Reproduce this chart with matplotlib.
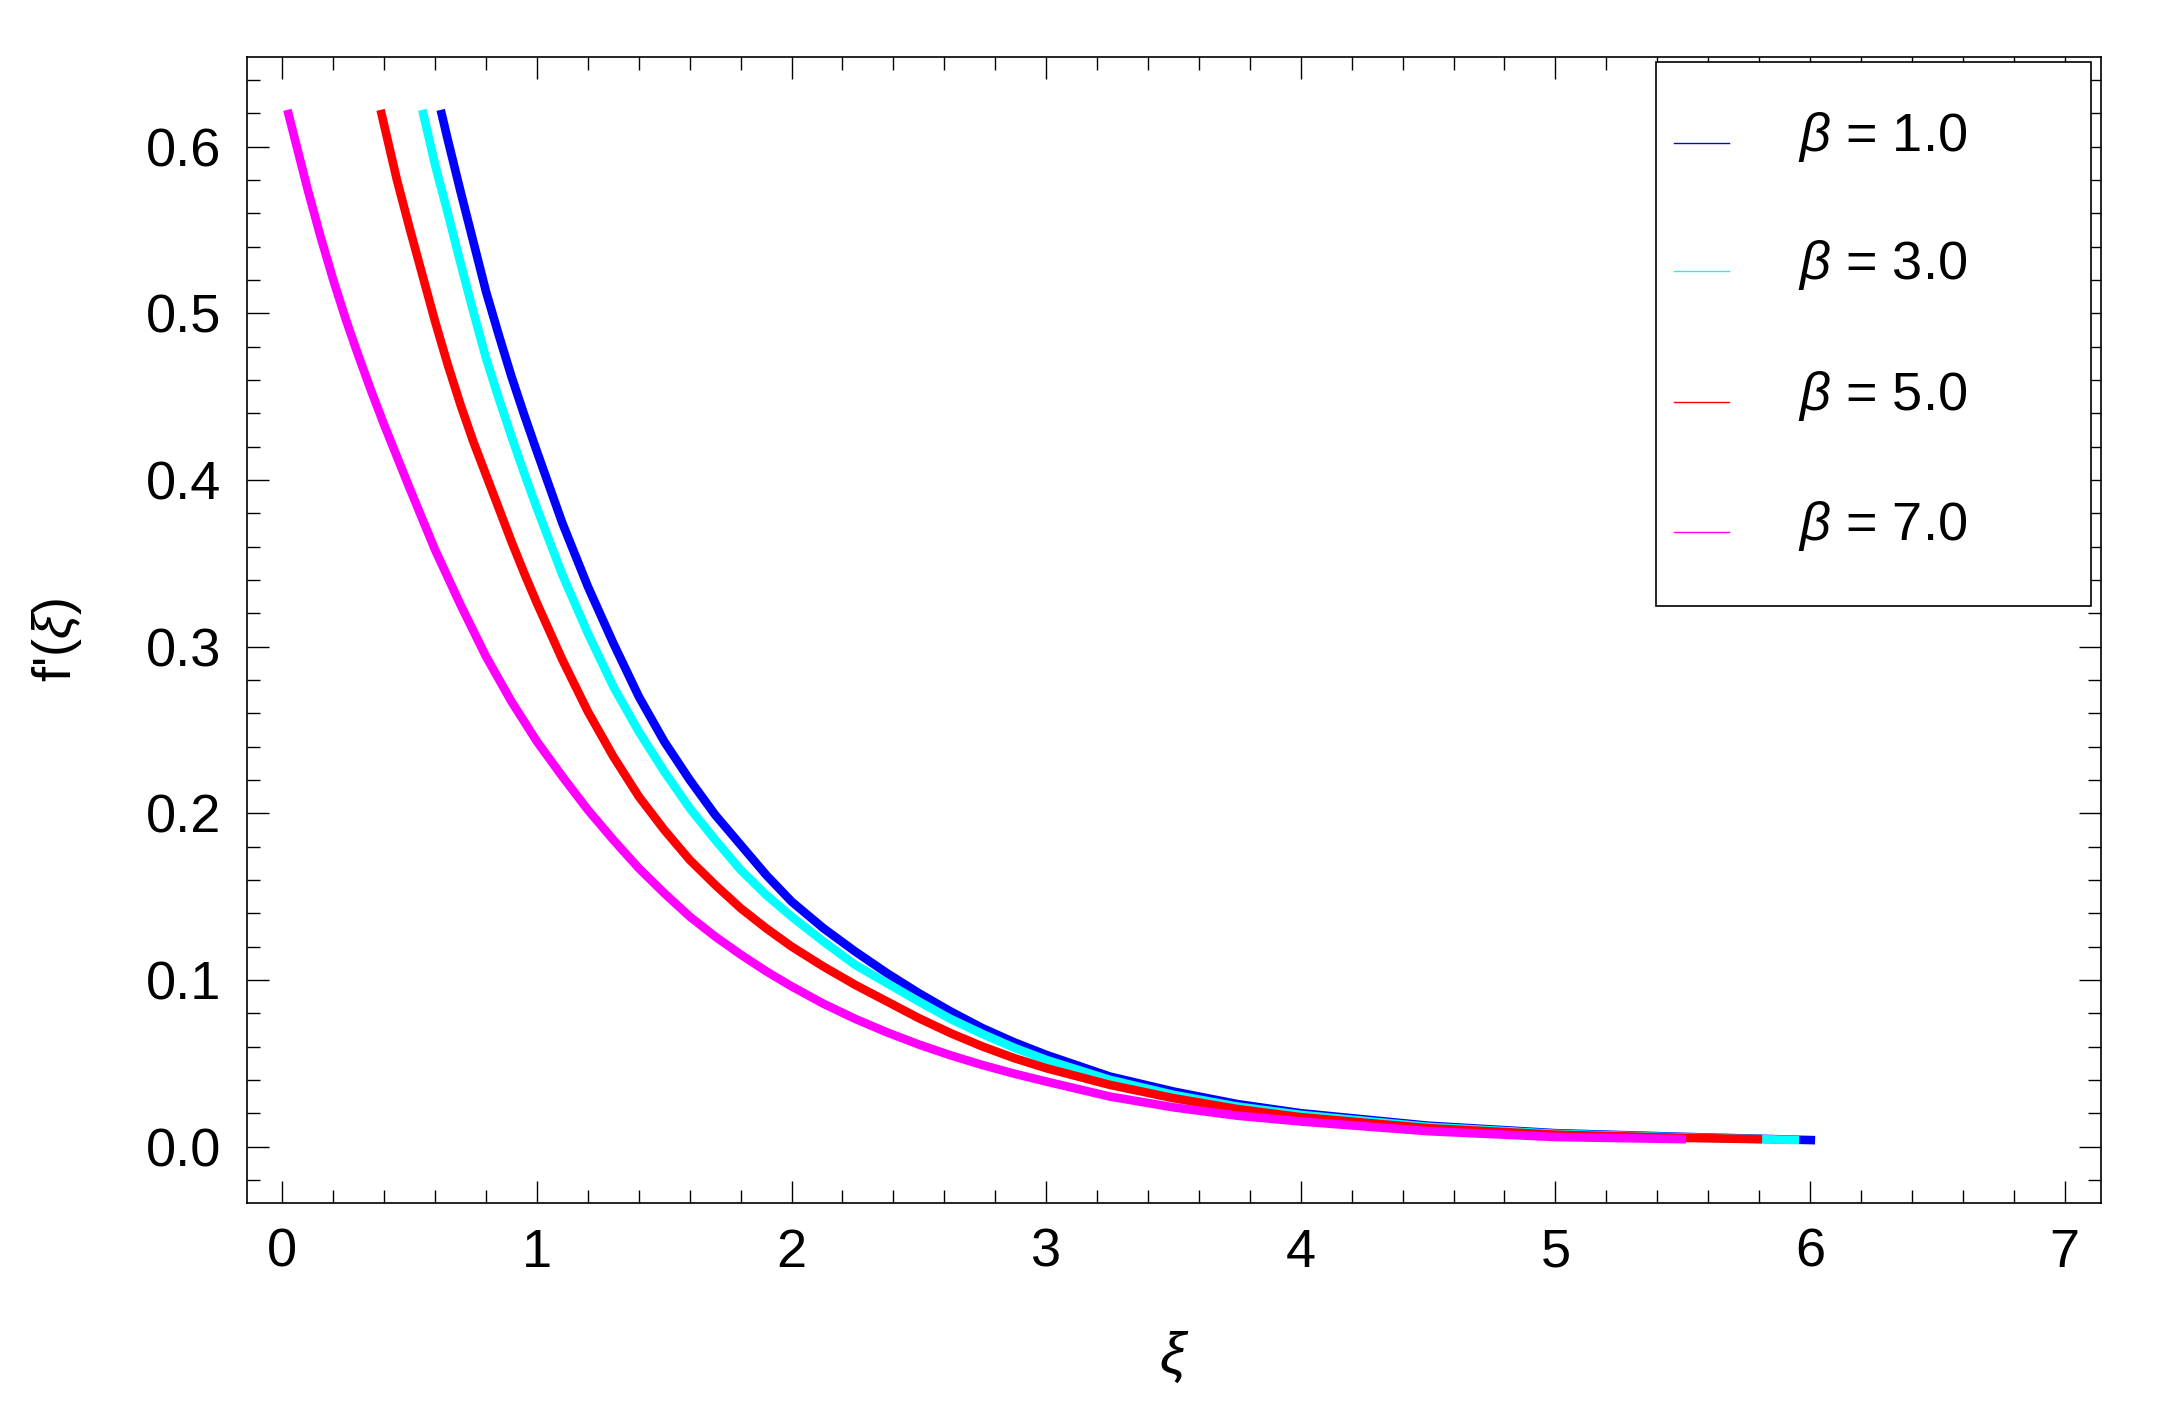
import matplotlib
matplotlib.use('Agg')
import matplotlib.pyplot as plt
from matplotlib.patches import Rectangle
from matplotlib.ticker import MultipleLocator, FormatStrFormatter

plt.rcParams['font.family'] = ['Liberation Sans', 'DejaVu Sans']
plt.rcParams['mathtext.fontset'] = 'custom'
plt.rcParams['mathtext.rm'] = 'Liberation Sans'
plt.rcParams['mathtext.it'] = 'Liberation Sans:italic'

# legend labels / colours
betas = ['1.0', '3.0', '5.0', '7.0']
colors = ['#0000ff', '#00ffff', '#ff0000', '#ff00ff']

# curves
xi_b1 = [0.622, 0.65, 0.70, 0.75, 0.80, 0.85, 0.90, 0.95, 1.00, 1.10, 1.20, 1.30, 1.40, 1.50,
         1.60, 1.70, 1.80, 1.90, 2.00, 2.125, 2.25, 2.375, 2.50, 2.625, 2.75, 2.875, 3.00,
         3.25, 3.50, 3.75, 4.00, 4.50, 5.00, 5.50, 6.02]
fp_b1 = [0.622, 0.604, 0.573, 0.543, 0.513, 0.487, 0.462, 0.439, 0.417, 0.374, 0.336, 0.302, 0.270, 0.243,
         0.220, 0.199, 0.181, 0.163, 0.147, 0.131, 0.117, 0.104, 0.092, 0.081, 0.071, 0.0625, 0.055,
         0.042, 0.033, 0.0255, 0.020, 0.0125, 0.0080, 0.0058, 0.0038]

xi_b3 = [0.550, 0.60, 0.65, 0.70, 0.75, 0.80, 0.85, 0.90, 0.95, 1.00, 1.10, 1.20, 1.30, 1.40, 1.50,
         1.60, 1.70, 1.80, 1.90, 2.00, 2.125, 2.25, 2.375, 2.50, 2.625, 2.75, 2.875, 3.00,
         3.25, 3.50, 3.75, 4.00, 4.50, 5.00, 5.50, 5.957]
fp_b3 = [0.622, 0.589, 0.560, 0.530, 0.501, 0.473, 0.449, 0.426, 0.404, 0.383, 0.343, 0.308, 0.276, 0.249, 0.225,
         0.203, 0.184, 0.166, 0.151, 0.138, 0.123, 0.109, 0.098, 0.087, 0.0765, 0.0675, 0.0592, 0.052,
         0.040, 0.031, 0.024, 0.019, 0.0118, 0.0076, 0.0055, 0.0039]

xi_b5 = [0.386, 0.45, 0.50, 0.55, 0.60, 0.65, 0.70, 0.75, 0.80, 0.85, 0.90, 0.95, 1.00, 1.10, 1.20,
         1.30, 1.40, 1.50, 1.60, 1.70, 1.80, 1.90, 2.00, 2.125, 2.25, 2.375, 2.50, 2.625, 2.75,
         2.875, 3.00, 3.25, 3.50, 3.75, 4.00, 4.50, 5.00, 5.50, 5.812]
fp_b5 = [0.622, 0.580, 0.551, 0.523, 0.495, 0.469, 0.445, 0.423, 0.403, 0.383, 0.363, 0.344, 0.326, 0.292, 0.261,
         0.234, 0.210, 0.190, 0.172, 0.157, 0.143, 0.131, 0.120, 0.108, 0.097, 0.087, 0.077, 0.068, 0.060,
         0.053, 0.047, 0.037, 0.029, 0.0225, 0.0176, 0.011, 0.0071, 0.0052, 0.0044]

xi_b7 = [0.020, 0.05, 0.10, 0.15, 0.20, 0.25, 0.30, 0.35, 0.40, 0.45, 0.50, 0.60, 0.70, 0.80, 0.90,
         1.00, 1.10, 1.20, 1.30, 1.40, 1.50, 1.60, 1.70, 1.80, 1.90, 2.00, 2.125, 2.25, 2.375,
         2.50, 2.625, 2.75, 2.875, 3.00, 3.25, 3.50, 3.75, 4.00, 4.50, 5.00, 5.513]
fp_b7 = [0.622, 0.604, 0.574, 0.546, 0.520, 0.496, 0.474, 0.453, 0.433, 0.414, 0.395, 0.358, 0.325, 0.294, 0.267,
         0.243, 0.222, 0.202, 0.184, 0.167, 0.152, 0.138, 0.126, 0.1152, 0.1052, 0.0961, 0.0857, 0.0766, 0.0685,
         0.0612, 0.0547, 0.0489, 0.0437, 0.039, 0.030, 0.0235, 0.0185, 0.0150, 0.0092, 0.0057, 0.0044]

curves = [(xi_b1, fp_b1), (xi_b3, fp_b3), (xi_b5, fp_b5), (xi_b7, fp_b7)]

fig = plt.figure(figsize=(10.8, 7.14), dpi=200)
ax = fig.add_axes([0.1142, 0.1579, 0.8585, 0.8025])

for (x, y), c in zip(curves, colors):
    ax.plot(x, y, color=c, lw=3.1, solid_capstyle='butt', solid_joinstyle='round')

ax.set_xlim(-0.14, 7.143)
ax.set_ylim(-0.0336, 0.654)
ax.xaxis.set_major_locator(MultipleLocator(1))
ax.xaxis.set_minor_locator(MultipleLocator(0.2))
ax.yaxis.set_major_locator(MultipleLocator(0.1))
ax.yaxis.set_minor_locator(MultipleLocator(0.02))
ax.yaxis.set_major_formatter(FormatStrFormatter('%.1f'))

ax.tick_params(which='both', direction='in', top=True, right=True, width=0.5, labelsize=19.5)
ax.tick_params(which='major', length=7.9, pad=9)
ax.tick_params(which='minor', length=4.7)
for s in ax.spines.values():
    s.set_linewidth(0.6)

ax.set_ylabel(r"f'($\xi$)", fontsize=19.5)
ax.yaxis.set_label_coords(-0.1022, 0.491)
ax.yaxis.label.set_va('center')
ax.yaxis.label.set_ha('center')
ax.set_xlabel(r"$\xi$", fontsize=21)
ax.xaxis.set_label_coords(0.5, -0.1348)
ax.xaxis.label.set_va('center')

# legend box, drawn by hand to match the reference spacing
ax.add_patch(Rectangle((0.760, 0.5205), 0.2346, 0.4747, transform=ax.transAxes,
                       facecolor='white', edgecolor='black', lw=0.6, zorder=5))
rows = [0.9249, 0.8131, 0.6989, 0.5847]
for yr, c, b in zip(rows, colors, betas):
    ax.plot([0.7698, 0.7994], [yr, yr], transform=ax.transAxes, color=c, lw=0.5, zorder=6)
    ax.text(0.8365, yr - 0.007, r"$\beta$ = " + b, transform=ax.transAxes,
            fontsize=19.5, va='baseline', ha='left', zorder=6)

fig.savefig('out.png', dpi=200)
